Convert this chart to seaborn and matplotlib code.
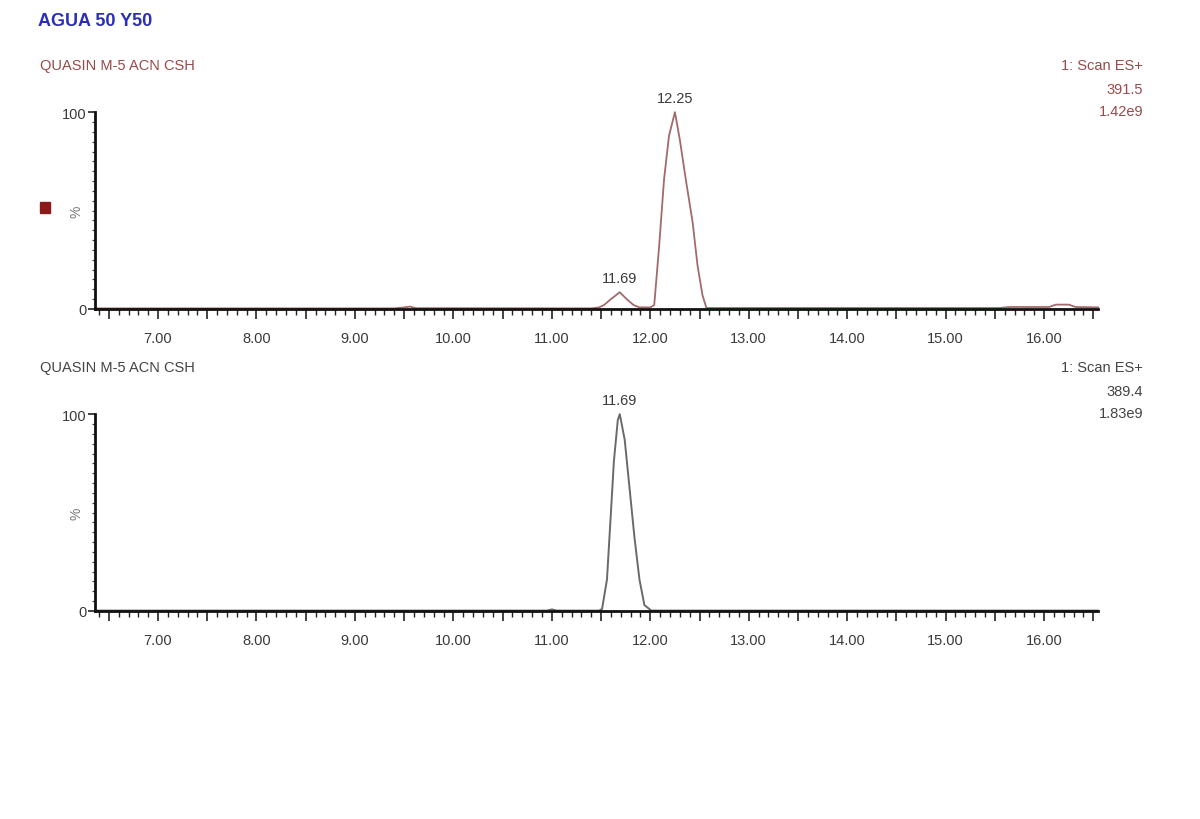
import matplotlib
matplotlib.use("Agg")
import matplotlib.pyplot as plt
from matplotlib.ticker import MultipleLocator, FuncFormatter
import seaborn as sns

# trace 1: m/z 391.5 (% of 1.42e9)
top_time = [6.36, 9.40, 9.50, 9.56, 9.62, 11.40, 11.48, 11.53, 11.60, 11.69,
            11.76, 11.83, 11.89, 12.00, 12.04, 12.09, 12.14, 12.19, 12.25,
            12.30, 12.36, 12.43, 12.48, 12.53, 12.57, 15.55, 15.65, 16.05,
            16.12, 16.25, 16.32, 16.55]
top_int = [0.3, 0.3, 0.8, 1.2, 0.4, 0.3, 0.8, 2.0, 5.0, 8.5,
           5.0, 2.0, 0.8, 0.8, 2.0, 32.0, 66.0, 88.0, 100.0,
           86.0, 66.0, 44.0, 22.0, 7.0, 0.5, 0.5, 1.0, 1.0,
           2.2, 2.2, 1.0, 0.8]

# trace 2: m/z 389.4 (% of 1.83e9)
bot_time = [6.36, 10.95, 11.00, 11.05, 11.48, 11.51, 11.56, 11.60, 11.63,
            11.67, 11.69, 11.74, 11.79, 11.84, 11.89, 11.94, 12.01, 16.55]
bot_int = [0.2, 0.2, 0.8, 0.2, 0.2, 1.0, 16.0, 50.0, 76.0,
           97.0, 100.0, 87.0, 62.0, 37.0, 16.0, 3.0, 0.2, 0.2]

x_major = 0.5
x_minor = 0.1
xlim = (6.36, 16.55)

title = "AGUA 50 Y50"
sample = "QUASIN M-5 ACN CSH"
panels = [
    {"mz": "391.5", "tic": "1.42e9", "peaks": ["12.25", "11.69"],
     "peak_pos": [12.25, 11.69], "peak_y": [100.0, 8.5]},
    {"mz": "389.4", "tic": "1.83e9", "peaks": ["11.69"],
     "peak_pos": [11.69], "peak_y": [100.0]},
]

sns.set_theme(style="white")
plt.rcParams["font.family"] = ["Liberation Sans Narrow", "Liberation Sans", "DejaVu Sans"]

fig = plt.figure(figsize=(12, 8.2), dpi=100)
ax_top = fig.add_axes([0.0792, 0.622, 0.836, 0.240])
ax_bot = fig.add_axes([0.0792, 0.2537, 0.836, 0.240])

red = "#a26a6a"
grey = "#6a6a6a"
txt = "#3a3a3a"

sns.lineplot(x=top_time, y=top_int, ax=ax_top, color=red, lw=1.3,
             estimator=None, sort=False)
sns.lineplot(x=bot_time, y=bot_int, ax=ax_bot, color=grey, lw=1.4,
             estimator=None, sort=False)


def half_fmt(v, pos):
    if abs(v - round(v)) < 1e-6:
        return f"{v:.2f}"
    return ""


for ax, info in zip([ax_top, ax_bot], panels):
    for ln in ax.get_lines():
        ln.set_clip_on(False)
    ax.set_xlim(*xlim)
    ax.set_ylim(0, 100)
    sns.despine(ax=ax)
    for side in ["left", "bottom"]:
        ax.spines[side].set_color("#111111")
        ax.spines[side].set_linewidth(2.0)
    ax.xaxis.set_major_locator(MultipleLocator(x_major))
    ax.xaxis.set_minor_locator(MultipleLocator(x_minor))
    ax.xaxis.set_major_formatter(FuncFormatter(half_fmt))
    ax.set_yticks([0, 100])
    ax.set_yticklabels(["0", "100"])
    ax.yaxis.set_minor_locator(MultipleLocator(5))
    # seaborn's white style switches ticks off, turn them back on
    ax.tick_params(axis="x", which="both", bottom=True)
    ax.tick_params(axis="y", which="both", left=True)
    ax.tick_params(axis="x", which="major", direction="out", length=7, width=1.2,
                   color="#222222", labelsize=10.5, labelcolor=txt, pad=9)
    ax.tick_params(axis="x", which="minor", direction="out", length=4, width=1.0,
                   color="#222222")
    ax.tick_params(axis="y", which="major", direction="out", length=5, width=1.2,
                   color="#222222", labelsize=10.5, labelcolor=txt, pad=1)
    ax.tick_params(axis="y", which="minor", direction="out", length=2.5, width=0.9,
                   color="#444444")
    ax.set_xlabel("")
    ax.set_ylabel("")
    ax.text(-0.018, 0.5, "%", transform=ax.transAxes, rotation=90, ha="center",
            va="center", fontsize=10, color="#777777")
    for lab, px, py in zip(info["peaks"], info["peak_pos"], info["peak_y"]):
        ax.annotate(lab, (px, py), xytext=(0, 5), textcoords="offset points",
                    ha="center", va="bottom", fontsize=10.5, color=txt,
                    annotation_clip=False)

fig.text(38 / 1200, 1 - 22 / 820, title, fontsize=13, fontweight="bold",
         color="#2b2fb8", va="center", ha="left")

# panel headers
fig.text(40 / 1200, 1 - 66 / 820, sample, fontsize=10.5, color="#9a4a4a",
         va="center", ha="left")
fig.text(40 / 1200, 1 - 368 / 820, sample, fontsize=10.5, color="#444444",
         va="center", ha="left")

for (y0, col, info) in [(66, "#9a4a4a", panels[0]), (368, "#444444", panels[1])]:
    fig.text(1143 / 1200, 1 - y0 / 820, "1: Scan ES+", fontsize=10.5, color=col,
             va="center", ha="right")
    fig.text(1143 / 1200, 1 - (y0 + 24) / 820, info["mz"], fontsize=10.5, color=col,
             va="center", ha="right")
    fig.text(1143 / 1200, 1 - (y0 + 46) / 820, info["tic"], fontsize=10.5, color=col,
             va="center", ha="right")

# small trace marker square next to the top panel
fig.patches.append(plt.Rectangle((40 / 1200, 1 - 214 / 820), 10 / 1200, 11 / 820,
                                 transform=fig.transFigure, color="#8b1a1a"))

fig.savefig("out.png", dpi=100, facecolor="white")
